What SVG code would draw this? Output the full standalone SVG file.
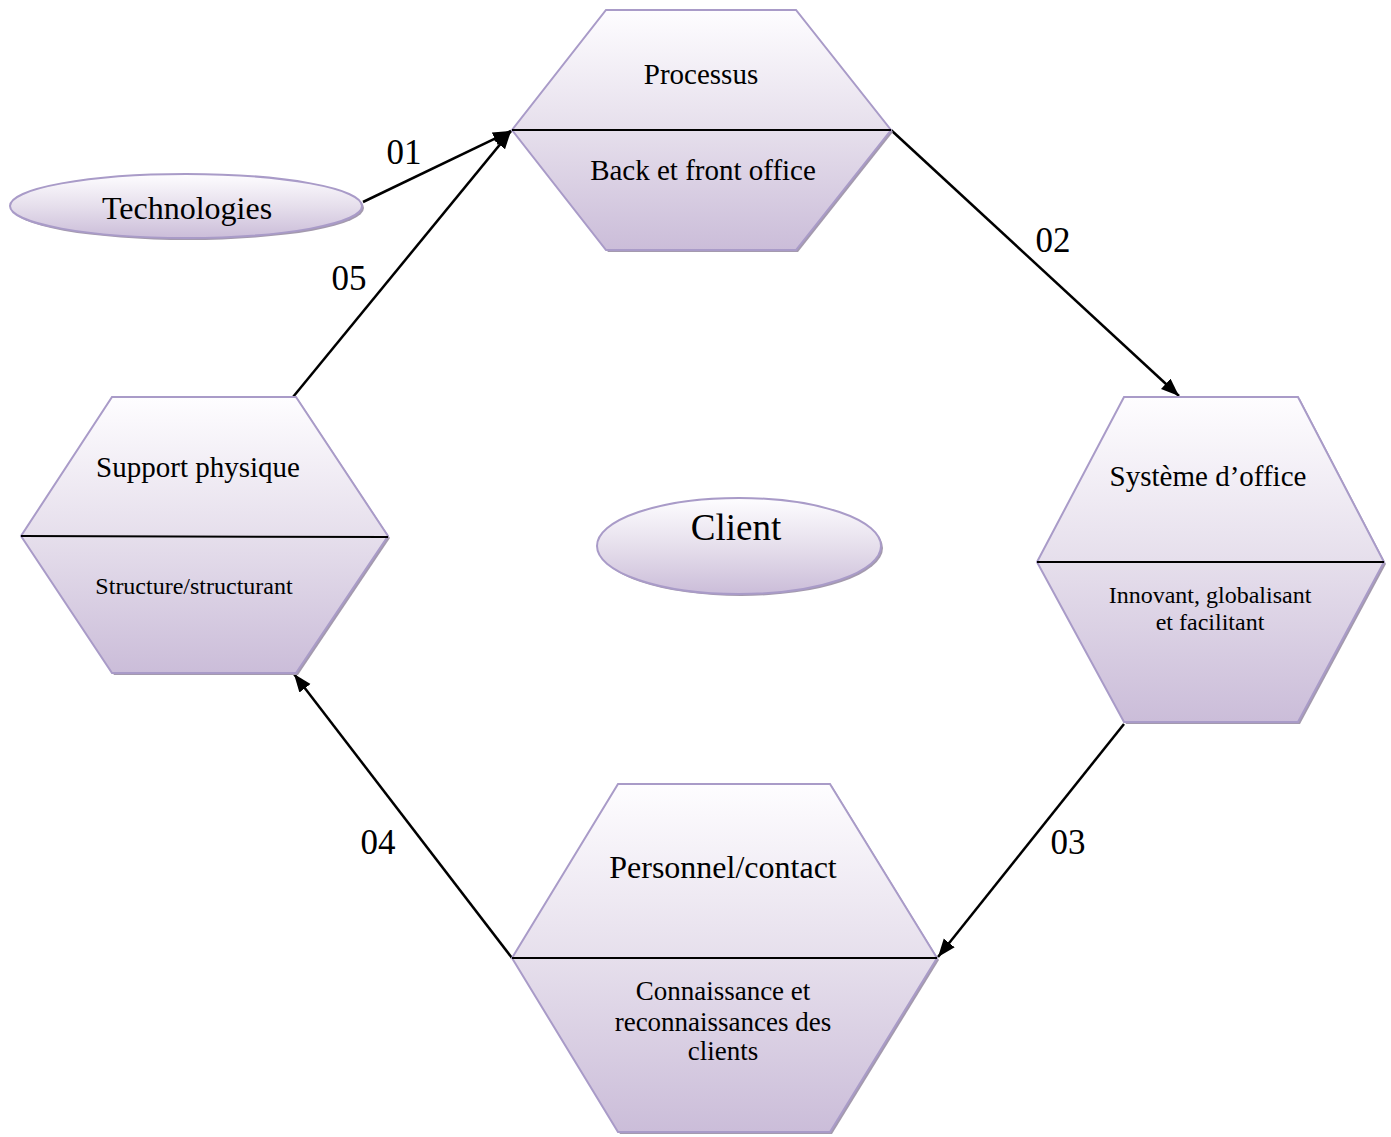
<svg xmlns="http://www.w3.org/2000/svg" width="1391" height="1137" viewBox="0 0 1391 1137">
<defs>
<linearGradient id="g" x1="0" y1="0" x2="0" y2="1">
<stop offset="0" stop-color="#fefdff"/>
<stop offset="0.5" stop-color="#e6dfec"/>
<stop offset="1" stop-color="#cbbdd9"/>
</linearGradient>
<marker id="ah" markerUnits="userSpaceOnUse" markerWidth="20" markerHeight="16" refX="18" refY="7" orient="auto">
<path d="M0,0 L18,7 L0,14 z" fill="#000"/>
</marker>
<style>
.sh{fill:#a49aae;}
.hx{fill:url(#g);stroke:#a99bc8;stroke-width:2;}
.dv{stroke:#000;stroke-width:2;}
.t{font-family:"Liberation Serif","Times New Roman",serif;fill:#000;text-anchor:middle;}
.cn{stroke:#000;stroke-width:2.5;fill:none;marker-end:url(#ah);}
</style>
</defs>
<rect width="1391" height="1137" fill="#fff"/>

<g id="connectors">
<line class="cn" x1="363" y1="202" x2="511" y2="131"/>
<line class="cn" x1="293" y1="397" x2="511" y2="131"/>
<line class="cn" x1="891" y1="130" x2="1179" y2="396"/>
<line class="cn" x1="1124" y1="724" x2="938" y2="957"/>
<line class="cn" x1="512" y1="958" x2="294" y2="674"/>
<text class="t" x="404" y="164" font-size="35">01</text>
<text class="t" x="1053" y="252" font-size="35">02</text>
<text class="t" x="1068" y="854" font-size="35">03</text>
<text class="t" x="378" y="854" font-size="35">04</text>
<text class="t" x="349" y="290" font-size="35">05</text>
</g>

<g id="technologies">
<ellipse class="sh" cx="188" cy="208" rx="176" ry="32"/>
<ellipse class="hx" cx="186" cy="206" rx="176" ry="32"/>
<text class="t" x="187" y="219" font-size="32">Technologies</text>
</g>

<g id="client">
<ellipse class="sh" cx="741" cy="548" rx="142" ry="48"/>
<ellipse class="hx" cx="739" cy="546" rx="142" ry="48"/>
<text class="t" x="736" y="540" font-size="37">Client</text>
</g>

<g id="processus">
<polygon class="sh" points="608,12 798,12 893,132 798,252 608,252 514,132"/>
<polygon class="hx" points="606,10 796,10 891,130 796,250 606,250 512,130"/>
<line class="dv" x1="512" y1="130" x2="891" y2="130"/>
<text class="t" x="701" y="84" font-size="29">Processus</text>
<text class="t" x="703" y="180" font-size="29">Back et front office</text>
</g>

<g id="systeme">
<polygon class="sh" points="1126,399 1300,399 1386,564 1300,724 1126,724 1039,564"/>
<polygon class="hx" points="1124,397 1298,397 1384,562 1298,722 1124,722 1037,562"/>
<line class="dv" x1="1037" y1="562" x2="1384" y2="562"/>
<text class="t" x="1208" y="486" font-size="29">Système d’office</text>
<text class="t" x="1210" y="603" font-size="24">Innovant, globalisant</text>
<text class="t" x="1210" y="630" font-size="24">et facilitant</text>
</g>

<g id="personnel">
<polygon class="sh" points="620,786 832,786 939,960 832,1134 620,1134 514,960"/>
<polygon class="hx" points="618,784 830,784 937,958 830,1132 618,1132 512,958"/>
<line class="dv" x1="512" y1="958" x2="937" y2="958"/>
<text class="t" x="723" y="878" font-size="32">Personnel/contact</text>
<text class="t" x="723" y="1000" font-size="27">Connaissance et</text>
<text class="t" x="723" y="1031" font-size="27">reconnaissances des</text>
<text class="t" x="723" y="1060" font-size="27">clients</text>
</g>

<g id="support">
<polygon class="sh" points="114,399 298,399 390,538 298,675 114,675 23,538"/>
<polygon class="hx" points="112,397 296,397 388,536 296,673 112,673 21,536"/>
<line class="dv" x1="21" y1="536" x2="388" y2="537"/>
<text class="t" x="198" y="477" font-size="29">Support physique</text>
<text class="t" x="194" y="594" font-size="24">Structure/structurant</text>
</g>
</svg>
